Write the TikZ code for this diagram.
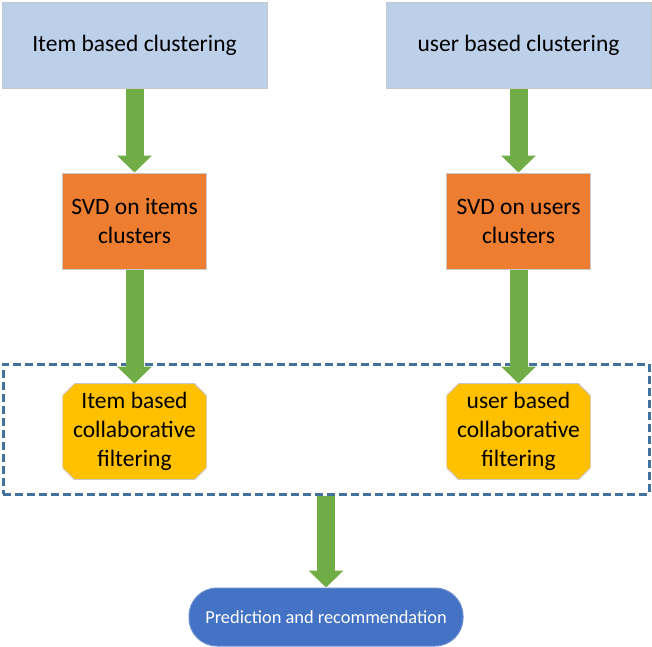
\documentclass[tikz,border=0pt]{standalone}
\usepackage{fontspec}
\setmainfont{Carlito}
\usetikzlibrary{positioning, arrows.meta}

\definecolor{clusterfill}{HTML}{BDD0EA}
\definecolor{svdfill}{HTML}{ED7D31}
\definecolor{cffill}{HTML}{FFC000}
\definecolor{predfill}{HTML}{4472C4}
\definecolor{arrowgreen}{HTML}{70AD47}
\definecolor{groupline}{HTML}{41719C}
\definecolor{edgegray}{HTML}{C8C8C8}

\tikzset{
  clusterbox/.style={draw=edgegray,fill=clusterfill,line width=1pt,minimum width=265pt,minimum height=86pt,inner sep=0pt,font=\fontsize{23.5}{29}\selectfont},
  svdbox/.style={draw=edgegray,fill=svdfill,line width=1pt,minimum width=144pt,minimum height=96pt,inner sep=0pt,align=center,font=\fontsize{23.5}{29}\selectfont},
  cfbox/.style={fill=white,minimum width=144pt,minimum height=96pt,inner sep=0pt,align=center,font=\fontsize{23.5}{29}\selectfont,
    path picture={\draw[draw=edgegray,fill=cffill,line width=1pt]
      ([xshift=12pt]path picture bounding box.north west) -- ([xshift=-12pt]path picture bounding box.north east)
      -- ([yshift=-12pt]path picture bounding box.north east) -- ([yshift=12pt]path picture bounding box.south east)
      -- ([xshift=-12pt]path picture bounding box.south east) -- ([xshift=12pt]path picture bounding box.south west)
      -- ([yshift=12pt]path picture bounding box.south west) -- ([yshift=-12pt]path picture bounding box.north west) -- cycle;}},
  groupbox/.style={draw=groupline,line width=3pt,dash pattern=on 8pt off 4pt,minimum width=646pt,minimum height=130pt,inner sep=0pt},
  predbox/.style={draw=predfill!80!white,fill=predfill,line width=1pt,rounded corners=28pt,minimum width=274pt,minimum height=58pt,inner sep=0pt,text=white,font=\fontsize{18.4}{22}\selectfont},
  flow/.style={draw=arrowgreen,line width=18pt,-{Triangle[length=17pt,width=34pt]}}
}

\begin{document}
\begin{tikzpicture}[x=1pt,y=-1pt]
  \useasboundingbox (0,0) rectangle (652,646);
  % top row
  \node[clusterbox] (itemclu) at (134.5,45) {Item based clustering};
  \node[clusterbox] (userclu) at (518.5,45) {user based clustering};
  % svd step
  \node[svdbox,below=84pt of itemclu] (itemsvd) {SVD on items\\clusters};
  \node[svdbox,below=84pt of userclu] (usersvd) {SVD on users\\clusters};
  % filtering group
  \node[groupbox] (cfgroup) at (326,429) {};
  \node[cfbox,below=114pt of itemsvd] (itemcf) {Item based\\collaborative\\filtering};
  \node[cfbox,below=114pt of usersvd] (usercf) {user based\\collaborative\\filtering};
  % result
  \node[predbox,below=92pt of cfgroup] (pred) {Prediction and recommendation};

  \draw[flow] (itemclu) -- (itemsvd);
  \draw[flow] (userclu) -- (usersvd);
  \draw[flow] (itemsvd) -- (itemcf);
  \draw[flow] (usersvd) -- (usercf);
  \draw[flow] (cfgroup) -- (pred);
\end{tikzpicture}
\end{document}
